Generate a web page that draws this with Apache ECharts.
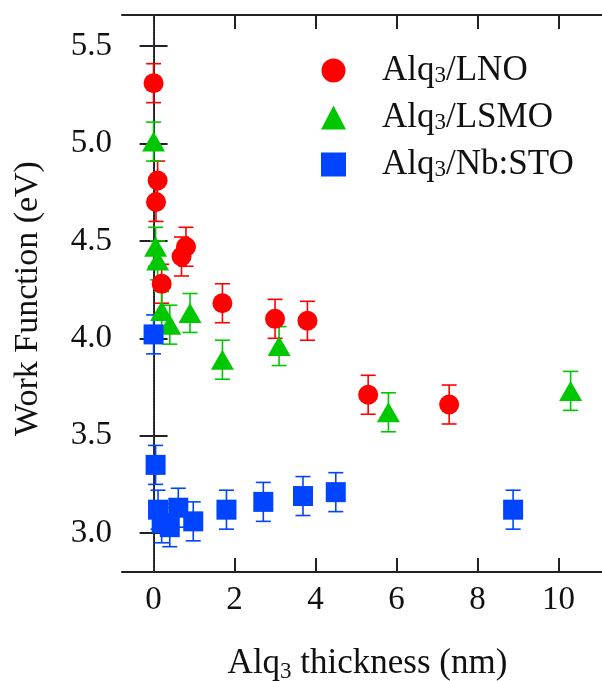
<!DOCTYPE html>
<html>
<head>
<meta charset="utf-8">
<script src="https://cdn.jsdelivr.net/npm/echarts@6/dist/echarts.min.js"></script>
<style>html,body{margin:0;padding:0;background:#fff;}#c{width:602px;height:681px;}</style>
</head>
<body>
<div id="c"></div>
<script>
// ---- data ----
const lnoX   = [0.0, 0.1, 0.06, 0.2, 0.69, 0.8, 1.7, 3.0, 3.8, 5.3, 7.3];
const lnoY   = [5.31, 4.81, 4.70, 4.28, 4.42, 4.47, 4.18, 4.10, 4.09, 3.71, 3.66];
const lnoErr = [0.1, 0.1, 0.1, 0.1, 0.1, 0.1, 0.1, 0.1, 0.1, 0.1, 0.1];

const lsmoX   = [0.0, 0.05, 0.1, 0.2, 0.4, 0.9, 1.7, 3.1, 5.8, 10.3];
const lsmoY   = [5.01, 4.47, 4.40, 4.14, 4.07, 4.13, 3.89, 3.96, 3.62, 3.73];
const lsmoErr = [0.1, 0.1, 0.1, 0.1, 0.1, 0.1, 0.1, 0.1, 0.1, 0.1];

const stoX   = [0.0, 0.05, 0.11, 0.2, 0.4, 0.61, 0.98, 1.8, 2.71, 3.69, 4.5, 8.88];
const stoY   = [4.02, 3.35, 3.12, 3.05, 3.03, 3.13, 3.06, 3.12, 3.16, 3.19, 3.21, 3.12];
const stoErr = [0.1, 0.1, 0.1, 0.1, 0.1, 0.1, 0.1, 0.1, 0.1, 0.1, 0.1, 0.1];

const seriesNames = ['Alq3/LNO', 'Alq3/LSMO', 'Alq3/Nb:STO'];
const xTicks = [0, 2, 4, 6, 8, 10];
const yTicks = [3.0, 3.5, 4.0, 4.5, 5.0, 5.5];
const xRange = [-0.78, 11.1];
const yRange = [2.8, 5.66];

// ---- style ----
const FONT = 'Liberation Serif';
const colors = ['#ff0000', '#00c800', '#0044ff'];

function pts(xs, ys) { return xs.map((x, i) => [x, ys[i]]); }
function errPts(xs, ys, es) { return xs.map((x, i) => [x, ys[i] - es[i], ys[i] + es[i]]); }

function errRender(color) {
  return function (params, api) {
    const x = api.value(0), lo = api.value(1), hi = api.value(2);
    const p1 = api.coord([x, hi]), p2 = api.coord([x, lo]);
    const hw = 7.5;
    const st = { stroke: color, lineWidth: 1.6 };
    return {
      type: 'group',
      children: [
        { type: 'line', shape: { x1: p1[0], y1: p1[1], x2: p2[0], y2: p2[1] }, style: st },
        { type: 'line', shape: { x1: p1[0] - hw, y1: p1[1], x2: p1[0] + hw, y2: p1[1] }, style: st },
        { type: 'line', shape: { x1: p2[0] - hw, y1: p2[1], x2: p2[0] + hw, y2: p2[1] }, style: st }
      ]
    };
  };
}

const axisLineStyle = { show: true, lineStyle: { color: '#222', width: 2 } };
const tickStyle = (vals) => ({ show: true, inside: true, length: 14, customValues: vals, lineStyle: { color: '#222', width: 2 } });

const richSub = {
  a: { fontFamily: FONT, fontSize: 35, color: '#111', lineHeight: 38 },
  s: { fontFamily: FONT, fontSize: 23, color: '#111', lineHeight: 20, verticalAlign: 'bottom' }
};
const legendRich = {
  a: { fontFamily: FONT, fontSize: 35, color: '#111', lineHeight: 34 },
  s: { fontFamily: FONT, fontSize: 23, color: '#111', lineHeight: 18, verticalAlign: 'bottom' }
};

const chart = echarts.init(document.getElementById('c'));
const symbols = ['circle', 'triangle', 'rect'];
const sizes = [20, [23, 20], 20];
const data = [
  [lnoX, lnoY, lnoErr],
  [lsmoX, lsmoY, lsmoErr],
  [stoX, stoY, stoErr]
];

const series = [];
data.forEach((d, i) => {
  series.push({
    type: 'custom',
    renderItem: errRender(colors[i]),
    data: errPts(d[0], d[1], d[2]),
    z: 2,
    silent: true
  });
});
data.forEach((d, i) => {
  const s = {
    type: 'scatter',
    name: seriesNames[i],
    symbol: symbols[i],
    symbolSize: sizes[i],
    itemStyle: { color: colors[i], opacity: 1 },
    data: pts(d[0], d[1]),
    z: 3
  };
  if (i === 0) {
    s.markLine = {
      silent: true,
      symbol: ['none', 'none'],
      label: { show: false },
      lineStyle: { type: [1.5, 1.5], color: '#444', width: 1 },
      data: [{ xAxis: 0 }],
      z: 1
    };
  }
  series.push(s);
});

chart.setOption({
  animation: false,
  backgroundColor: '#fff',
  grid: { left: 122, top: 15, right: -1, bottom: 109, containLabel: false, outerBoundsMode: 'none' },
  legend: {
    orient: 'vertical',
    left: 321,
    top: 53,
    padding: 0,
    itemWidth: 25,
    itemHeight: 24,
    itemGap: 12,
    data: seriesNames.map((n, i) => ({ name: n, icon: symbols[i] })),
    formatter: function (name) {
      const rest = name.slice(4);
      return '{a|Alq}{s|3}{a|' + rest + '}';
    },
    textStyle: { rich: legendRich, padding: [0, 0, 0, 31] }
  },
  xAxis: [{
    type: 'value', position: 'bottom', min: xRange[0], max: xRange[1],
    axisLine: axisLineStyle, axisTick: tickStyle(xTicks),
    splitLine: { show: false },
    axisLabel: { customValues: xTicks, fontFamily: FONT, fontSize: 33, color: '#111', margin: 12 },
    name: '{a|Alq}{s|3}{a| thickness (nm)}',
    nameLocation: 'middle', nameGap: 73,
    nameTextStyle: { rich: richSub, padding: [0, 0, 0, 10] }
  }, {
    type: 'value', position: 'top', min: xRange[0], max: xRange[1],
    axisLine: axisLineStyle, axisTick: tickStyle(xTicks),
    splitLine: { show: false }, axisLabel: { show: false }
  }],
  yAxis: [{
    type: 'value', position: 'left', min: yRange[0], max: yRange[1],
    axisLine: axisLineStyle, axisTick: tickStyle(yTicks),
    splitLine: { show: false },
    axisLabel: { customValues: yTicks, fontFamily: FONT, fontSize: 33, color: '#111', margin: 10,
      formatter: v => v.toFixed(1) },
    name: 'Work Function (eV)',
    nameLocation: 'middle', nameGap: 77,
    nameTextStyle: { fontFamily: FONT, fontSize: 34, color: '#111', padding: [0, 10, 0, 0] }
  }, {
    type: 'value', position: 'right', min: yRange[0], max: yRange[1],
    axisLine: axisLineStyle, axisTick: tickStyle(yTicks),
    splitLine: { show: false }, axisLabel: { show: false }
  }],
  series: series
});
</script>
</body>
</html>
